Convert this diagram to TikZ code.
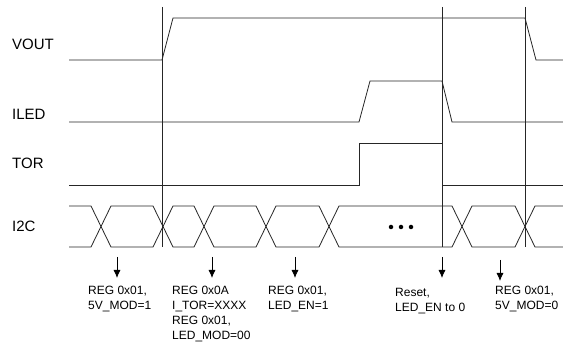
\documentclass[tikz,border=0pt]{standalone}
\usepackage{fontspec}
\setmainfont{Liberation Sans}
\usetikzlibrary{arrows.meta}
\tikzset{
  sig/.style={line width=0.8pt, draw=black!85, line join=miter},
  marker/.style={line width=0.7pt, draw=black!85},
  evarrow/.style={line width=0.8pt, -{Latex[length=8pt,width=7pt]}},
  rowlabel/.style={anchor=base west, inner sep=0pt, font=\fontsize{15}{17}\selectfont},
  note/.style={anchor=north west, inner sep=0pt, align=left, font=\fontsize{12}{15}\selectfont},
  dot/.style={circle, fill=black, inner sep=0pt, minimum size=4.5pt}
}
\begin{document}
\begin{tikzpicture}[x=1pt,y=-1pt]
\useasboundingbox (0,0) rectangle (563,344);
% row labels
\node[rowlabel] (lvout) at (12,50) {VOUT};
\node[rowlabel] (liled) at (12,120) {ILED};
\node[rowlabel] (ltor) at (12,169) {TOR};
\node[rowlabel] (li2c) at (12,232) {I2C};
% marker lines
\draw[marker] (162,7) -- (162,247);
\draw[marker] (442,7) -- (442,247);
\draw[marker] (525,7) -- (525,247);
% VOUT
\draw[sig] (69,60) -- (162,60) -- (173,18) -- (525,18) -- (536,60) -- (563,60);
% ILED
\draw[sig] (69,122) -- (359,122) -- (370,81) -- (442,81) -- (452,122) -- (563,122);
% TOR
\draw[sig] (69,185) -- (359,185) -- (359,143) -- (442,143) -- (442,185) -- (563,185);
% I2C bus
\draw[sig] (69,206) -- (91,206) -- (111,247) -- (153,247) -- (173,206) -- (194,206) -- (214,247) -- (256,247) -- (276,206) -- (319,206) -- (339,247) -- (452,247) -- (472,206) -- (515,206) -- (535,247) -- (563,247);
\draw[sig] (69,247) -- (91,247) -- (111,206) -- (153,206) -- (173,247) -- (194,247) -- (214,206) -- (256,206) -- (276,247) -- (319,247) -- (339,206) -- (452,206) -- (472,247) -- (515,247) -- (535,206) -- (563,206);
% dots
\node[dot] (d1) at (391,227) {};
\node[dot] (d2) at (401,227) {};
\node[dot] (d3) at (411,227) {};
% event arrows
\coordinate (a1s) at (117,257); \coordinate (a1e) at (117,278);
\coordinate (a2s) at (212,257); \coordinate (a2e) at (212,278);
\coordinate (a3s) at (295,257); \coordinate (a3e) at (295,278);
\coordinate (a4s) at (442,257); \coordinate (a4e) at (442,278);
\coordinate (a5s) at (500,260); \coordinate (a5e) at (500,281);
\draw[evarrow] (a1s) -- (a1e);
\draw[evarrow] (a2s) -- (a2e);
\draw[evarrow] (a3s) -- (a3e);
\draw[evarrow] (a4s) -- (a4e);
\draw[evarrow] (a5s) -- (a5e);
% notes
\node[note] (n1) at (88,286) {REG 0x01,\\5V\_MOD=1};
\node[note] (n2) at (172,286) {REG 0x0A\\I\_TOR=XXXX\\REG 0x01,\\LED\_MOD=00};
\node[note] (n3) at (268,286) {REG 0x01,\\LED\_EN=1};
\node[note] (n4) at (395,288) {Reset,\\LED\_EN to 0};
\node[note] (n5) at (495,286) {REG 0x01,\\5V\_MOD=0};
\end{tikzpicture}
\end{document}
